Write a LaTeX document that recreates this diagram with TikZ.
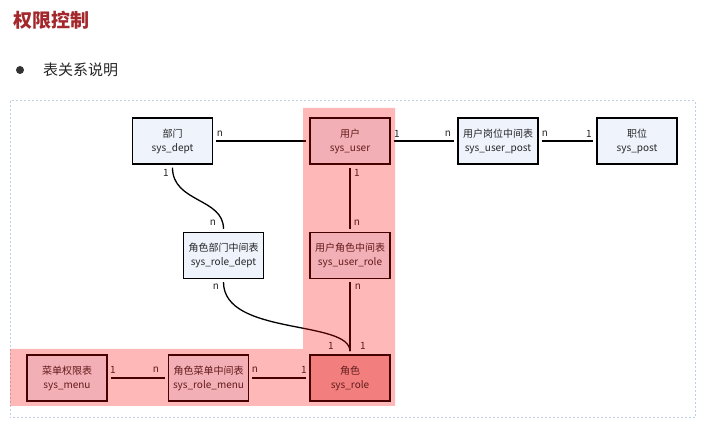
\documentclass[tikz,border=0pt]{standalone}
\usepackage{fontspec}
\setmainfont{Noto Sans CJK SC}
\newfontfamily\cjk{Noto Sans CJK SC}
\definecolor{titlered}{HTML}{A3272B}
\definecolor{boxblue}{HTML}{EEF3FC}
\definecolor{rolefill}{HTML}{EFB0B0}
\definecolor{framec}{HTML}{BCCFE4}
\tikzset{
  tbl/.style={draw=black, line width=1.3pt, fill=boxblue, minimum width=80pt, minimum height=46pt,
    inner sep=0pt, align=center, font=\cjk\fontsize{10}{14}\selectfont, text=black!85},
  conn/.style={line width=1.3pt, shorten >=3pt, shorten <=3pt},
  lbl/.style={font=\cjk\fontsize{10}{10}\selectfont, inner sep=0pt, text=black!85}
}
\begin{document}
\begin{tikzpicture}[x=1pt,y=-1pt]
\useasboundingbox (0,0) rectangle (718,430);
\fill[white] (0,0) rectangle (718,430);
% title and bullet
\node[anchor=west, inner sep=0pt, text=titlered, font=\cjk\bfseries\fontsize{19}{20}\selectfont] (title) at (13,20) {权限控制};
\fill[black!80] (20,70) circle (4);
\node[anchor=west, inner sep=0pt, font=\cjk\fontsize{15}{16}\selectfont, text=black!85] (sub) at (43,70) {表关系说明};
% frame
\draw[framec, line width=1pt, dash pattern=on 2pt off 2pt] (10,101) rectangle (695,418);
% tables
\node[tbl] (dept) at (172.5,141) {部门\\sys\_dept};
\node[tbl] (user) at (350,141) {用户\\sys\_user};
\node[tbl] (upost) at (498,141) {用户岗位中间表\\sys\_user\_post};
\node[tbl] (post) at (637,141) {职位\\sys\_post};
\node[tbl] (rdept) at (223.5,255.5) {角色部门中间表\\sys\_role\_dept};
\node[tbl] (urole) at (350,255.5) {用户角色中间表\\sys\_user\_role};
\node[tbl] (menu) at (67,378) {菜单权限表\\sys\_menu};
\node[tbl] (rmenu) at (208.5,378) {角色菜单中间表\\sys\_role\_menu};
\node[tbl, fill=rolefill] (role) at (350,378) {角色\\sys\_role};
% connectors
\draw[conn] (dept.east) -- (user.west);
\draw[conn] (user.east) -- (upost.west);
\draw[conn] (upost.east) -- (post.west);
\draw[conn] (user.south) -- (urole.north);
\draw[conn] (urole.south) -- (role.north);
\draw[conn] (menu.east) -- (rmenu.west);
\draw[conn] (rmenu.east) -- (role.west);
\draw[conn] (dept.south) .. controls +(0,38) and +(0,-34) .. (rdept.north);
\draw[conn] (rdept.south) .. controls +(0,57) and +(0,-35) .. (role.north);
% labels
\node[lbl] (l1) at (220,134) {n};
\node[lbl] (l2) at (397,134) {1};
\node[lbl] (l3) at (448,134) {n};
\node[lbl] (l4) at (545,134) {n};
\node[lbl] (l5) at (589,134) {1};
\node[lbl] (l6) at (357,173) {1};
\node[lbl] (l7) at (357,223) {n};
\node[lbl] (l8) at (166,173) {1};
\node[lbl] (l9) at (213,223) {n};
\node[lbl] (l10) at (216,287) {n};
\node[lbl] (l11) at (331,346) {1};
\node[lbl] (l12) at (358,287) {n};
\node[lbl] (l13) at (363,346) {1};
\node[lbl] (l14) at (113,370) {1};
\node[lbl] (l15) at (156,370) {n};
\node[lbl] (l16) at (255,370) {n};
\node[lbl] (l17) at (304,370) {1};
% highlight overlay
\fill[red, opacity=0.28] (303,108) rectangle (395,406) (10,349) rectangle (395,406);
\end{tikzpicture}
\end{document}
